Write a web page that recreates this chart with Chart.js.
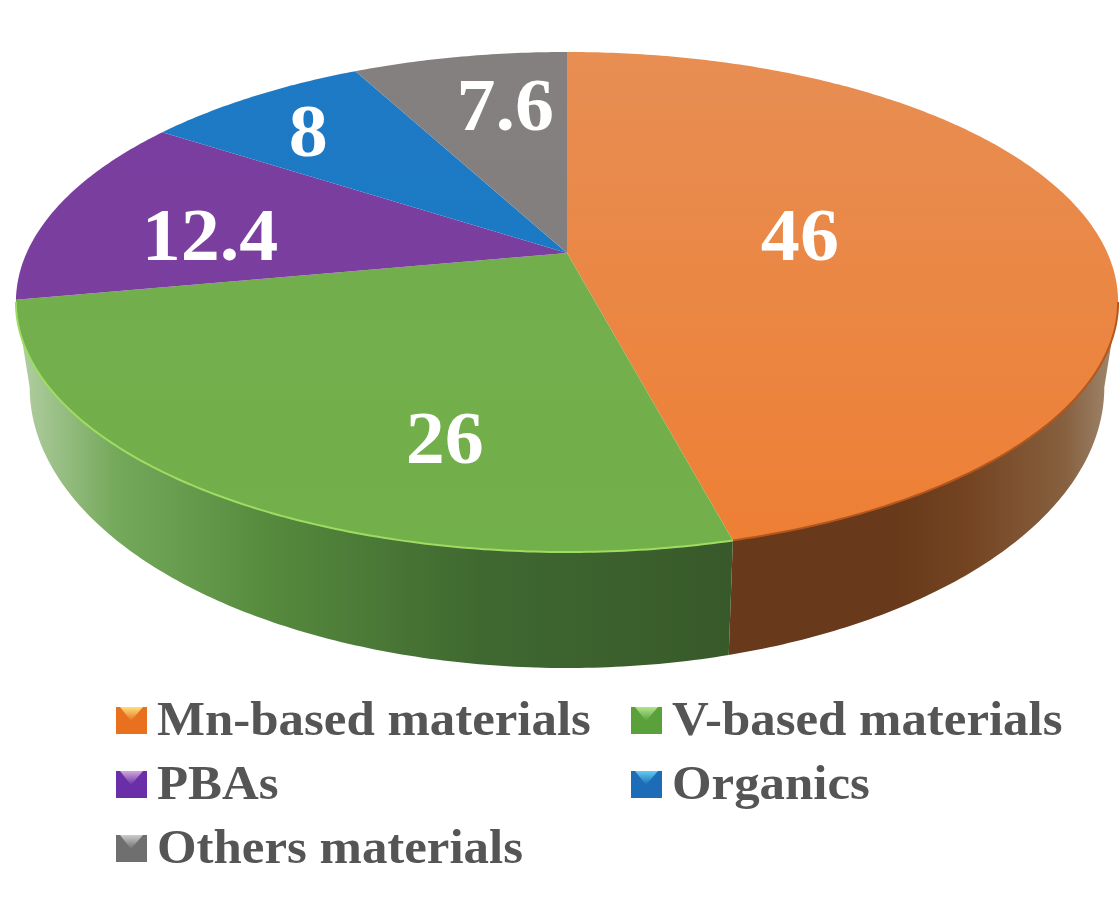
<!DOCTYPE html>
<html>
<head>
<meta charset="utf-8">
<script src="https://cdn.jsdelivr.net/npm/chart.js@4"></script>
<style>
  html, body { margin: 0; padding: 0; background: #fff; }
  canvas { display: block; filter: blur(0.6px); }
</style>
</head>
<body>
<canvas id="pie" width="1119" height="924"></canvas>
<script>
const categories = ['Mn-based materials', 'V-based materials', 'PBAs', 'Organics', 'Others materials'];
const shares = [46, 26, 12.4, 8, 7.6];

const topColors = [['#e78e53', '#ee7f34'], ['#74ad4e', '#72b04a'], ['#7a3ea0', '#7a3f9f'], ['#1f7ac4', '#1677c5'], ['#84807f', '#7f7d7c']];
const rimColors = ['#b5561c', '#9fdc62', '#5f2f80', '#125c98', '#666'];
const sideColors = [
  [[0, '#68391a'], [0.42, '#68391a'], [0.62, '#754522'], [0.86, '#86603f'], [1, '#a28a72']],
  [[0, '#38592a'], [0.35, '#3f6830'], [0.65, '#568a3d'], [0.86, '#74a85a'], [1, '#b4d0a4']],
  [[0, '#4d2866'], [1, '#4d2866']],
  [[0, '#104c80'], [1, '#104c80']],
  [[0, '#555'], [1, '#555']]
];
const iconColors = [['#e8701f', '#ffe07a'], ['#5aa13c', '#b4e48c'], ['#6a2fa8', '#d0a8dc'], ['#1c6cb8', '#62cdf0'], ['#6f6f6f', '#cccccc']];

// where each number sits inside its slice: part of the slice angle, part of the radius
const labelAngle = [0.49, 0.327, 0.372, 0.43, 0.61];
const labelRadius = [0.442, 0.703, 0.673, 0.767, 0.70];

// disc seen in perspective
const apexX = 567, apexY = 253, spreadX = 540.4, spreadY = 240.4, tilt = -0.196;
const frontFrom = Math.asin(0.196), frontTo = Math.PI - frontFrom;

function project(angle, r) {
  const u = Math.cos(angle) * r, v = Math.sin(angle) * r;
  const d = 1 + tilt * v;
  return [apexX + spreadX * u / d, apexY + spreadY * v / d];
}

// lower edge of the side wall
function dropped(p) {
  const depth = 85 + (p[1] - 300) * 31 / 252;
  return [apexX + (p[0] - apexX) * 0.975, p[1] + depth];
}

function edgePoints(from, to) {
  const pts = [];
  const steps = Math.max(2, Math.ceil((to - from) * 90));
  for (let i = 0; i <= steps; i++) {
    pts.push(project(from + (to - from) * i / steps, 1));
  }
  return pts;
}

function tracePoints(ctx, pts) {
  pts.forEach((p, i) => (i ? ctx.lineTo(p[0], p[1]) : ctx.moveTo(p[0], p[1])));
}

// the reference type is a bit wider than the font
function wideText(ctx, text, x, y, stretch) {
  ctx.save();
  ctx.translate(x, y);
  ctx.scale(stretch, 1);
  ctx.fillText(text, 0, 0);
  ctx.restore();
}

// pie slices take their angles from the library, only the drawing is changed
Chart.ArcElement.prototype.draw = function (ctx) {
  const { startAngle, endAngle } = this.getProps(['startAngle', 'endAngle']);
  const i = this.$context.dataIndex;
  ctx.save();

  const from = Math.max(startAngle, frontFrom), to = Math.min(endAngle, frontTo);
  if (to > from) {
    const edge = edgePoints(from, to);
    const low = edge.map(dropped).reverse();
    // the dark end of the wall is always next to the front seam
    const startX = project(i === 0 ? to : from, 1)[0], endX = project(i === 0 ? from : to, 1)[0];
    const sideGrad = ctx.createLinearGradient(startX, 0, endX, 0);
    sideColors[i].forEach(s => sideGrad.addColorStop(s[0], s[1]));
    ctx.beginPath();
    tracePoints(ctx, edge.concat(low));
    ctx.closePath();
    ctx.fillStyle = sideGrad;
    ctx.fill();
  }

  const rim = edgePoints(startAngle, endAngle);
  const topGrad = ctx.createLinearGradient(0, 52, 0, 552);
  topGrad.addColorStop(0, topColors[i][0]);
  topGrad.addColorStop(1, topColors[i][1]);
  ctx.beginPath();
  ctx.moveTo(apexX, apexY);
  rim.forEach(p => ctx.lineTo(p[0], p[1]));
  ctx.closePath();
  ctx.fillStyle = topGrad;
  ctx.fill();

  if (to > from) {
    ctx.beginPath();
    tracePoints(ctx, edgePoints(from, to));
    ctx.strokeStyle = rimColors[i];
    ctx.lineWidth = 2;
    ctx.stroke();
  }
  ctx.restore();
};

const numbersPlugin = {
  id: 'numbers',
  afterDatasetsDraw(chart) {
    const ctx = chart.ctx;
    const arcs = chart.getDatasetMeta(0).data;
    ctx.save();
    ctx.fillStyle = '#fff';
    ctx.font = 'bold 74px "Liberation Serif"';
    ctx.textAlign = 'center';
    ctx.textBaseline = 'middle';
    arcs.forEach((arc, i) => {
      const { startAngle, endAngle } = arc.getProps(['startAngle', 'endAngle']);
      const p = project(startAngle + (endAngle - startAngle) * labelAngle[i], labelRadius[i]);
      wideText(ctx, String(shares[i]), p[0], p[1] + 4, 1.055);
    });
    ctx.restore();
  }
};

const keyPlugin = {
  id: 'key',
  afterDraw(chart) {
    const ctx = chart.ctx;
    const columns = [115, 630], rows = [735, 799, 863];
    ctx.save();
    ctx.font = 'bold 48px "Liberation Serif"';
    ctx.textBaseline = 'alphabetic';
    chart.data.labels.forEach((name, i) => {
      const x = columns[i % 2], y = rows[Math.floor(i / 2)];
      const top = y - 28;
      ctx.fillStyle = iconColors[i][0];
      ctx.fillRect(x + 1, top, 31, 27);
      const shine = ctx.createLinearGradient(0, top, 0, top + 14);
      shine.addColorStop(0, iconColors[i][1]);
      shine.addColorStop(1, iconColors[i][0]);
      ctx.fillStyle = shine;
      ctx.beginPath();
      ctx.moveTo(x + 5, top);
      ctx.lineTo(x + 28, top);
      ctx.lineTo(x + 16, top + 14);
      ctx.closePath();
      ctx.fill();
      ctx.fillStyle = '#555';
      wideText(ctx, name, x + 42, y, 1.06);
    });
    ctx.restore();
  }
};

new Chart(document.getElementById('pie'), {
  type: 'pie',
  data: {
    labels: categories,
    datasets: [{ data: shares, backgroundColor: topColors.map(c => c[1]), borderWidth: 0 }]
  },
  options: {
    responsive: false,
    animation: false,
    events: [],
    plugins: { legend: { display: false }, tooltip: { enabled: false } }
  },
  plugins: [numbersPlugin, keyPlugin]
});
</script>
</body>
</html>
